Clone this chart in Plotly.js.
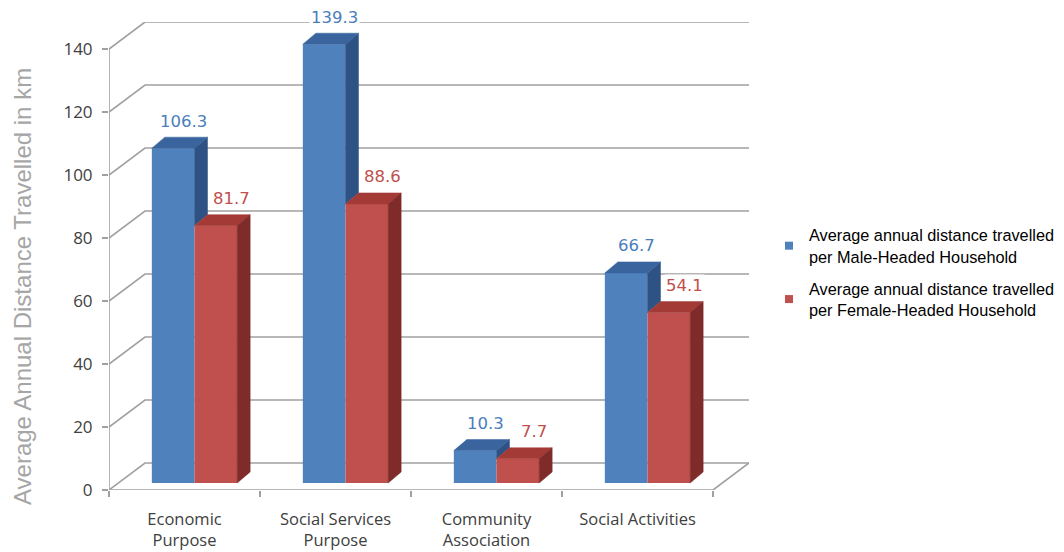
<!DOCTYPE html>
<html>
<head>
<meta charset="utf-8">
<script src="https://cdn.plot.ly/plotly-3.0.1.min.js"></script>
<style>
  html, body { margin: 0; padding: 0; background: #ffffff; }
  #chart { width: 1064px; height: 552px; }
</style>
</head>
<body>
<div id="chart"></div>
<script>
// ---------------- data ----------------
const categories = ['Economic<br>Purpose', 'Social Services<br>Purpose', 'Community<br>Association', 'Social Activities'];
const maleValues = [106.3, 139.3, 10.3, 66.7];
const femaleValues = [81.7, 88.6, 7.7, 54.1];
const yTickVals = [0, 20, 40, 60, 80, 100, 120, 140];
const seriesNames = [
  'Average annual distance travelled<br>per Male-Headed Household',
  'Average annual distance travelled<br>per Female-Headed Household'
];
const yAxisTitle = 'Average Annual Distance Travelled in km';

// ---------------- geometry (pixels) ----------------
const W = 1064, H = 552;
const PLOT_L = 109, PLOT_R = 749, PLOT_T = 22, PLOT_B = 490;
const CAT_PX = 151;          // px per category
const Y_PX = 3.15;           // px per unit value
const BACK_DX = 36, BACK_DY = 27;   // back wall offset
const BAR_DX = 10, BAR_DY = 7;      // bar plane offset from front plane
const DEPTH_DX = 13, DEPTH_DY = 11; // bar depth
const BAR_W = 0.2825;        // bar width in category units

const xMin = -0.5, xMax = -0.5 + (PLOT_R - PLOT_L) / CAT_PX;
const yMax = (PLOT_B - PLOT_T) / Y_PX;
const nCat = categories.length;
const xEnd = nCat - 0.5;
const bdx = BACK_DX / CAT_PX, bdy = BACK_DY / Y_PX;
const pdx = BAR_DX / CAT_PX, pdy = BAR_DY / Y_PX;
const ddx = DEPTH_DX / CAT_PX, ddy = DEPTH_DY / Y_PX;

const colors = {
  blueFront: '#4f81bd', blueTop: '#3a649e', blueSide: '#2e5283',
  redFront: '#c0504d', redTop: '#a33a36', redSide: '#7e2b29',
  blueText: '#4a7ebb', redText: '#c0504d',
  grid: '#a0a0a0', text: '#404040'
};

// ---------------- wall / grid shapes ----------------
const shapes = [];
yTickVals.forEach(v => {
  shapes.push({
    type: 'path', xref: 'x', yref: 'y', layer: 'below',
    path: `M ${xMin},${v} L ${xMin + bdx},${v + bdy} L ${xEnd + bdx},${v + bdy}`,
    line: { color: colors.grid, width: 1.6 }
  });
});
// y axis line (front)
shapes.push({ type: 'line', xref: 'x', yref: 'y', layer: 'below',
  x0: xMin, x1: xMin, y0: 0, y1: yTickVals[yTickVals.length - 1],
  line: { color: colors.grid, width: 1.6 } });
// floor front edge and right edge
shapes.push({ type: 'path', xref: 'x', yref: 'y', layer: 'below',
  path: `M ${xMin},0 L ${xEnd},0 L ${xEnd + bdx},${bdy}`,
  line: { color: colors.grid, width: 1.6 } });

// ---------------- 3D faces ----------------
function topFaces(values, left) {
  const p = { x: [], y: [] };
  values.forEach((v, i) => {
    const xl = left ? i - BAR_W : i;
    const xr = xl + BAR_W;
    p.x.push(xl, xl + ddx, xr + ddx, xr, xl, null);
    p.y.push(v, v + ddy, v + ddy, v, v, null);
  });
  return p;
}
function sideFaces(values, lowerBound, left) {
  const s = { x: [], y: [] };
  values.forEach((v, i) => {
    const xl = left ? i - BAR_W : i;
    const xr = xl + BAR_W;
    const lo = Math.min(lowerBound ? lowerBound[i] : 0, v);
    s.x.push(xr, xr + ddx, xr + ddx, xr, xr, null);
    s.y.push(lo, lo + ddy, v + ddy, v, lo, null);
  });
  return s;
}
const catIdx = categories.map((c, i) => i);
const blueTop = topFaces(maleValues, true);
const redTop = topFaces(femaleValues, false);
const blueSide = sideFaces(maleValues, femaleValues, true);
const redSide = sideFaces(femaleValues, null, false);

function poly(p, color) {
  return {
    type: 'scatter', mode: 'lines', x: p.x, y: p.y, xaxis: 'x2', yaxis: 'y2',
    fill: 'toself', fillcolor: color, line: { color: color, width: 0.5 },
    hoverinfo: 'skip', showlegend: false, cliponaxis: false
  };
}

const traces = [
  { type: 'bar', x: catIdx, y: maleValues, xaxis: 'x2', yaxis: 'y2',
    width: BAR_W, offset: -BAR_W, marker: { color: colors.blueFront, line: { width: 0 } },
    name: seriesNames[0], showlegend: false, cliponaxis: false },
  { type: 'bar', x: catIdx, y: femaleValues, xaxis: 'x2', yaxis: 'y2',
    width: BAR_W, offset: 0, marker: { color: colors.redFront, line: { width: 0 } },
    name: seriesNames[1], showlegend: false, cliponaxis: false },
  poly(blueSide, colors.blueSide),
  poly(blueTop, colors.blueTop),
  poly(redTop, colors.redTop),
  poly(redSide, colors.redSide),
  // legend entries
  { type: 'scatter', mode: 'markers', x: [null], y: [null], name: seriesNames[0], legendgroup: 'm',
    marker: { symbol: 'square', size: 8, color: colors.blueFront } },
  { type: 'scatter', mode: 'markers', x: [null], y: [null], name: seriesNames[1], legendgroup: 'f',
    marker: { symbol: 'square', size: 8, color: colors.redFront } }
];

// ---------------- data labels ----------------
const annotations = [];
maleValues.forEach((v, i) => annotations.push({
  xref: 'x2', yref: 'y2', x: i - BAR_W / 2, y: v, text: v.toFixed(1),
  showarrow: false, xanchor: 'center', yanchor: 'middle', xshift: 10, yshift: 27,
  bgcolor: '#ffffff', borderpad: 1,
  font: { family: 'DejaVu Sans', size: 16.5, color: colors.blueText }
}));
femaleValues.forEach((v, i) => annotations.push({
  xref: 'x2', yref: 'y2', x: i + BAR_W / 2, y: v, text: v.toFixed(1),
  showarrow: false, xanchor: 'center', yanchor: 'middle', xshift: 16, yshift: 27,
  bgcolor: '#ffffff', borderpad: 1,
  font: { family: 'DejaVu Sans', size: 16.5, color: colors.redText }
}));
annotations.push({
  xref: 'paper', yref: 'paper', x: (22 - PLOT_L) / (PLOT_R - PLOT_L), y: (PLOT_B - 287) / (PLOT_B - PLOT_T),
  text: yAxisTitle, textangle: -90, showarrow: false, xanchor: 'center', yanchor: 'middle',
  font: { family: 'Liberation Sans, Arial, sans-serif', size: 24, color: '#a6a6a6' }
});

const layout = {
  width: W, height: H,
  margin: { l: PLOT_L, r: W - PLOT_R, t: PLOT_T, b: H - PLOT_B, pad: 0, autoexpand: false },
  paper_bgcolor: '#ffffff', plot_bgcolor: 'rgba(0,0,0,0)',
  showlegend: true,
  barmode: 'overlay',
  xaxis: {
    type: 'linear', range: [xMin, xMax], showgrid: false, zeroline: false, showline: false,
    tickmode: 'array', tickvals: catIdx, ticktext: categories,
    ticks: 'outside', ticklen: 6, tickcolor: 'rgba(0,0,0,0)', ticklabelstandoff: 8,
    tickfont: { family: 'Open Sans', size: 16.5, color: colors.text },
    minor: { tickmode: 'array', tickvals: catIdx.map(i => i - 0.5).concat([xEnd]),
      ticks: 'outside', ticklen: 6, tickcolor: colors.grid, tickwidth: 1.6, showgrid: false },
    automargin: false, fixedrange: true
  },
  yaxis: {
    range: [0, yMax], showgrid: false, zeroline: false, showline: false,
    tickmode: 'array', tickvals: yTickVals,
    ticks: 'outside', ticklen: 6, tickcolor: colors.grid, tickwidth: 1.6,
    ticklabelstandoff: 6,
    tickfont: { family: 'Open Sans', size: 17, color: colors.text },
    automargin: false, fixedrange: true
  },
  xaxis2: { overlaying: 'x', anchor: 'y2', range: [xMin - pdx, xMax - pdx], visible: false, fixedrange: true },
  yaxis2: { overlaying: 'y', anchor: 'x2', range: [-pdy, yMax - pdy], visible: false, fixedrange: true },
  legend: {
    x: (769 - PLOT_L) / (PLOT_R - PLOT_L), y: (PLOT_B - 218) / (PLOT_B - PLOT_T),
    xanchor: 'left', yanchor: 'top', bgcolor: 'rgba(0,0,0,0)',
    font: { family: 'Liberation Sans, Arial, sans-serif', size: 16.3, color: '#000000' },
    valign: 'middle', traceorder: 'grouped', tracegroupgap: 8
  },
  shapes: shapes,
  annotations: annotations
};

Plotly.newPlot('chart', traces, layout, { displayModeBar: false, staticPlot: true });
</script>
</body>
</html>
